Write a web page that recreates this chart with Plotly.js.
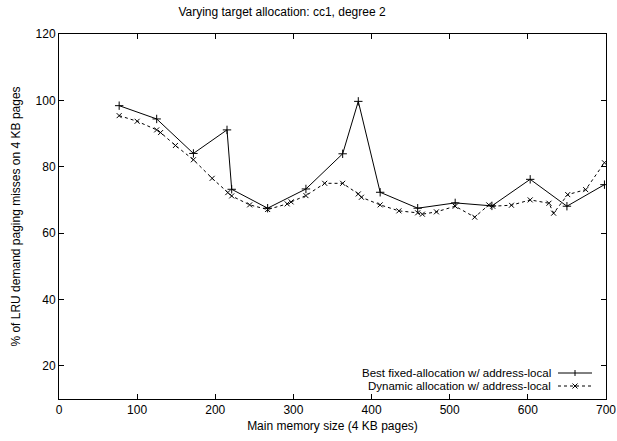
<!DOCTYPE html>
<html>
<head>
<meta charset="utf-8">
<script src="https://cdn.plot.ly/plotly-3.0.1.min.js"></script>
<style>html,body{margin:0;padding:0;background:#fff}#chart{width:617px;height:441px}</style>
</head>
<body>
<div id="chart"></div>
<script>
// Best fixed-allocation w/ address-local
const fixedX = [77, 125, 172, 215, 221, 267, 316, 363, 383, 411, 459, 507, 554, 603, 650, 698];
const fixedY = [98.4, 94.4, 84.0, 91.1, 73.2, 67.5, 73.3, 83.9, 99.7, 72.3, 67.5, 69.1, 68.2, 76.2, 68.1, 74.6];
// Dynamic allocation w/ address-local
const dynX = [77, 100, 125, 130, 149, 172, 196, 216, 221, 244, 267, 292, 297, 316, 340, 363, 383, 387, 411, 435, 459, 465, 483, 507, 532, 550, 555, 579, 603, 627, 633, 651, 674, 698];
const dynY = [95.4, 93.7, 91.1, 90.3, 86.4, 82.1, 76.5, 72.2, 71.2, 68.5, 67.1, 68.8, 69.4, 71.3, 75.0, 75.0, 71.8, 70.8, 68.5, 66.7, 66.1, 65.7, 66.4, 68.1, 64.8, 68.5, 68.1, 68.4, 70.0, 69.0, 66.0, 71.6, 73.1, 81.2];
const seriesNames = ["Best fixed-allocation w/ address-local", "Dynamic allocation w/ address-local"];
const xTicks = [0, 100, 200, 300, 400, 500, 600, 700];
const yTicks = [20, 40, 60, 80, 100, 120];

const W = 617, H = 441;
const L = 59, R = 11, T = 34, B = 42;
const PW = W - L - R, PH = H - T - B;
// paper coordinates are relative to the plot area
const px = v => (v - L) / PW, py = v => (H - B - v) / PH;

const traces = [
  {x: fixedX, y: fixedY, mode: 'lines+markers', name: seriesNames[0], showlegend: false,
   line: {color: '#000', width: 1}, marker: {symbol: 'cross-thin-open', size: 6, line: {color: '#000', width: 1}}},
  {x: dynX, y: dynY, mode: 'lines+markers', name: seriesNames[1], showlegend: false,
   line: {color: '#000', width: 1, dash: '3px,3px'}, marker: {symbol: 'x-thin-open', size: 5, line: {color: '#000', width: 1}}}
];

const font = {family: 'Liberation Sans, Arial, sans-serif', size: 12, color: '#000'};
const legFont = {family: 'Liberation Sans, Arial, sans-serif', size: 11.5, color: '#000'};
const r1 = 373, r2 = 386;
const shapes = [
  {type: 'line', xref: 'paper', yref: 'paper', x0: px(558), x1: px(592), y0: py(r1), y1: py(r1), line: {color: '#000', width: 1}},
  {type: 'line', xref: 'paper', yref: 'paper', x0: px(575), x1: px(575), y0: py(r1 - 3), y1: py(r1 + 3), line: {color: '#000', width: 1}},
  {type: 'line', xref: 'paper', yref: 'paper', x0: px(558), x1: px(592), y0: py(r2), y1: py(r2), line: {color: '#000', width: 1, dash: '3px,3px'}},
  {type: 'line', xref: 'paper', yref: 'paper', x0: px(572.5), x1: px(577.5), y0: py(r2 - 2.5), y1: py(r2 + 2.5), line: {color: '#000', width: 1}},
  {type: 'line', xref: 'paper', yref: 'paper', x0: px(572.5), x1: px(577.5), y0: py(r2 + 2.5), y1: py(r2 - 2.5), line: {color: '#000', width: 1}}
];
const annotations = [
  {text: seriesNames[0], xref: 'paper', yref: 'paper', x: px(552), y: py(r1), xanchor: 'right', yanchor: 'middle', showarrow: false, font: legFont, borderpad: 0},
  {text: seriesNames[1], xref: 'paper', yref: 'paper', x: px(552), y: py(r2), xanchor: 'right', yanchor: 'middle', showarrow: false, font: legFont, borderpad: 0}
];

const layout = {
  width: W, height: H,
  margin: {l: L, r: R, t: T, b: B},
  paper_bgcolor: '#fff', plot_bgcolor: '#fff',
  font: font,
  showlegend: false,
  title: {text: 'Varying target allocation: cc1, degree 2', font: font, x: 282 / W, xanchor: 'center', y: 1 - 12 / H, yanchor: 'middle'},
  xaxis: {range: [0, 700], tickvals: xTicks, ticks: 'inside', ticklen: 5, tickcolor: '#000', mirror: 'allticks',
          showline: true, linecolor: '#000', linewidth: 1, showgrid: false, zeroline: false, tickfont: font,
          title: {text: 'Main memory size (4 KB pages)', font: font, standoff: 5}},
  yaxis: {range: [10, 120], tickvals: yTicks, ticks: 'inside', ticklen: 5, tickcolor: '#000', mirror: 'allticks',
          showline: true, linecolor: '#000', linewidth: 1, showgrid: false, zeroline: false, tickfont: font,
          title: {text: '% of LRU demand paging misses on 4 KB pages', font: font, standoff: 12}},
  shapes: shapes, annotations: annotations
};
Plotly.newPlot('chart', traces, layout, {staticPlot: true, displayModeBar: false});
</script>
</body>
</html>
